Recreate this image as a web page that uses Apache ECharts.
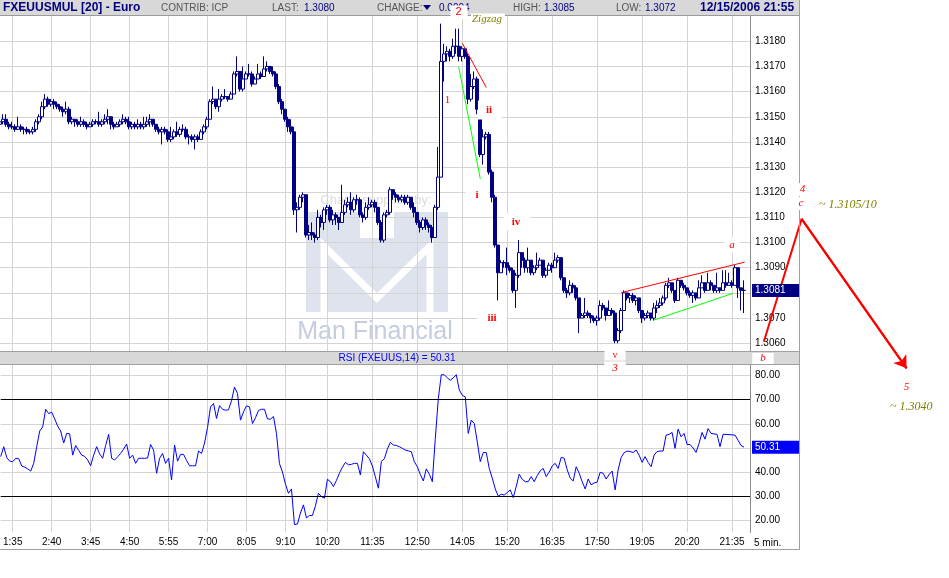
<!DOCTYPE html>
<html>
<head>
<meta charset="utf-8">
<title>FXEUUSMUL [20] - Euro</title>
<script src="https://cdn.jsdelivr.net/npm/echarts@6.0.0/dist/echarts.min.js"></script>
<style>
html,body{margin:0;padding:0;background:#ffffff;}
#chart{width:949px;height:578px;}
</style>
</head>
<body>
<div id="chart"></div>
<script>
// ---------------- data ----------------
const tickLabels = ['1:35','2:40','3:45','4:50','5:55','7:00','8:05','9:10','10:20','11:35','12:50','14:05','15:20','16:35','17:50','19:05','20:20','21:35'];
const firstOpen = 1.3147;
const closes = [
1.3148,1.3149,1.3147,1.3146,1.3146,1.3145,1.3146,1.3145,1.3145,1.3144,
1.3144,1.3145,1.3148,1.3150,1.3154,1.3157,1.3155,1.3156,1.3155,1.3154,
1.3153,1.3152,1.3153,1.3148,1.3149,1.3148,1.3147,1.3148,1.3147,1.3146,
1.3147,1.3148,1.3148,1.3147,1.3148,1.3149,1.3150,1.3147,1.3146,1.3147,
1.3148,1.3149,1.3148,1.3146,1.3147,1.3146,1.3147,1.3146,1.3147,1.3148,
1.3149,1.3147,1.3145,1.3144,1.3145,1.3144,1.3141,1.3142,1.3144,1.3143,
1.3145,1.3145,1.3142,1.3142,1.3141,1.3142,1.3141,1.3144,1.3146,1.3149,
1.3156,1.3157,1.3154,1.3157,1.3158,1.3158,1.3157,1.3159,1.3167,1.3168,
1.3161,1.3165,1.3167,1.3167,1.3163,1.3165,1.3167,1.3166,1.3169,1.3170,
1.3168,1.3167,1.3162,1.3156,1.3153,1.3149,1.3146,1.3144,1.3113,1.3114,
1.3118,1.3119,1.3103,1.3104,1.3103,1.3102,1.3110,1.3108,1.3113,1.3114,
1.3109,1.3111,1.3110,1.3108,1.3112,1.3115,1.3116,1.3113,1.3117,1.3117,
1.3111,1.3110,1.3114,1.3115,1.3116,1.3114,1.3108,1.3101,1.3111,1.3112,
1.3121,1.3119,1.3118,1.3117,1.3118,1.3116,1.3118,1.3114,1.3112,1.3108,
1.3106,1.3109,1.3107,1.3106,1.3102,1.3114,1.3126,1.3172,1.3175,1.3176,
1.3174,1.3178,1.3178,1.3174,1.3177,1.3174,1.3157,1.3162,1.3165,1.3153,
1.3135,1.3142,1.3143,1.3128,1.3118,1.3099,1.3088,1.3092,1.3092,1.3090,
1.3089,1.3081,1.3087,1.3096,1.3093,1.3090,1.3093,1.3088,1.3090,1.3091,
1.3093,1.3087,1.3089,1.3091,1.3090,1.3093,1.3094,1.3086,1.3081,1.3080,
1.3083,1.3082,1.3078,1.3070,1.3071,1.3072,1.3071,1.3070,1.3069,1.3070,
1.3075,1.3074,1.3071,1.3073,1.3072,1.3061,1.3065,1.3073,1.3080,1.3078,
1.3079,1.3077,1.3078,1.3073,1.3070,1.3071,1.3072,1.3070,1.3074,1.3075,
1.3076,1.3078,1.3083,1.3084,1.3081,1.3077,1.3085,1.3083,1.3082,1.3080,
1.3079,1.3080,1.3078,1.3082,1.3084,1.3081,1.3084,1.3083,1.3081,1.3082,
1.3081,1.3084,1.3083,1.3084,1.3083,1.3090,1.3082,1.3081,1.3081];
const highs = [
1.3150,1.3151,1.3151,1.3148,1.3148,1.3147,1.3150,1.3147,1.3146,1.3146,
1.3145,1.3146,1.3149,1.3151,1.3156,1.3159,1.3158,1.3157,1.3157,1.3156,
1.3155,1.3154,1.3156,1.3154,1.3150,1.3149,1.3149,1.3150,1.3149,1.3148,
1.3148,1.3149,1.3149,1.3152,1.3149,1.3151,1.3153,1.3150,1.3148,1.3148,
1.3149,1.3151,1.3150,1.3150,1.3148,1.3148,1.3149,1.3148,1.3150,1.3150,
1.3151,1.3149,1.3147,1.3146,1.3146,1.3146,1.3145,1.3146,1.3145,1.3148,
1.3146,1.3147,1.3146,1.3143,1.3143,1.3143,1.3143,1.3145,1.3147,1.3150,
1.3157,1.3162,1.3157,1.3161,1.3159,1.3161,1.3158,1.3160,1.3168,1.3174,
1.3168,1.3170,1.3168,1.3171,1.3168,1.3166,1.3171,1.3168,1.3174,1.3172,
1.3170,1.3170,1.3168,1.3163,1.3157,1.3153,1.3150,1.3149,1.3146,1.3116,
1.3119,1.3120,1.3119,1.3107,1.3108,1.3104,1.3113,1.3111,1.3114,1.3115,
1.3115,1.3113,1.3112,1.3110,1.3123,1.3117,1.3118,1.3120,1.3118,1.3119,
1.3118,1.3112,1.3116,1.3118,1.3117,1.3117,1.3114,1.3109,1.3112,1.3113,
1.3122,1.3121,1.3120,1.3119,1.3119,1.3119,1.3119,1.3118,1.3116,1.3112,
1.3109,1.3110,1.3110,1.3108,1.3107,1.3115,1.3138,1.3187,1.3179,1.3178,
1.3177,1.3181,1.3185,1.3185,1.3178,1.3177,1.3175,1.3167,1.3168,1.3166,
1.3153,1.3145,1.3144,1.3144,1.3129,1.3119,1.3099,1.3093,1.3093,1.3098,
1.3091,1.3090,1.3088,1.3101,1.3096,1.3094,1.3098,1.3093,1.3091,1.3096,
1.3094,1.3093,1.3090,1.3092,1.3092,1.3096,1.3095,1.3094,1.3086,1.3082,
1.3085,1.3084,1.3083,1.3078,1.3072,1.3078,1.3073,1.3072,1.3071,1.3071,
1.3077,1.3076,1.3074,1.3077,1.3074,1.3073,1.3066,1.3074,1.3081,1.3080,
1.3080,1.3080,1.3079,1.3078,1.3073,1.3072,1.3073,1.3072,1.3076,1.3077,
1.3078,1.3079,1.3084,1.3086,1.3084,1.3081,1.3086,1.3085,1.3084,1.3082,
1.3081,1.3081,1.3080,1.3085,1.3087,1.3084,1.3088,1.3085,1.3083,1.3088,
1.3082,1.3089,1.3089,1.3088,1.3085,1.3091,1.3090,1.3082,1.3085];
const lows = [
1.3146,1.3147,1.3146,1.3145,1.3145,1.3144,1.3145,1.3144,1.3143,1.3143,
1.3143,1.3143,1.3144,1.3147,1.3149,1.3153,1.3154,1.3154,1.3153,1.3153,
1.3152,1.3150,1.3151,1.3147,1.3147,1.3146,1.3146,1.3146,1.3146,1.3145,
1.3146,1.3146,1.3147,1.3146,1.3146,1.3147,1.3147,1.3145,1.3145,1.3146,
1.3146,1.3147,1.3147,1.3145,1.3145,1.3145,1.3145,1.3145,1.3145,1.3146,
1.3146,1.3146,1.3144,1.3143,1.3139,1.3143,1.3140,1.3140,1.3141,1.3142,
1.3142,1.3144,1.3141,1.3139,1.3140,1.3137,1.3140,1.3141,1.3143,1.3145,
1.3149,1.3155,1.3153,1.3152,1.3156,1.3157,1.3156,1.3157,1.3159,1.3166,
1.3160,1.3160,1.3165,1.3166,1.3162,1.3163,1.3165,1.3165,1.3166,1.3168,
1.3167,1.3166,1.3161,1.3155,1.3151,1.3148,1.3144,1.3143,1.3111,1.3104,
1.3113,1.3116,1.3102,1.3101,1.3101,1.3100,1.3101,1.3106,1.3105,1.3111,
1.3108,1.3107,1.3107,1.3105,1.3108,1.3111,1.3114,1.3111,1.3112,1.3115,
1.3110,1.3108,1.3109,1.3113,1.3114,1.3112,1.3107,1.3100,1.3100,1.3110,
1.3111,1.3117,1.3116,1.3116,1.3116,1.3115,1.3115,1.3113,1.3110,1.3107,
1.3104,1.3105,1.3105,1.3104,1.3100,1.3102,1.3113,1.3126,1.3164,1.3172,
1.3172,1.3173,1.3175,1.3172,1.3172,1.3173,1.3155,1.3156,1.3161,1.3151,
1.3134,1.3131,1.3141,1.3127,1.3116,1.3098,1.3077,1.3088,1.3090,1.3087,
1.3088,1.3080,1.3074,1.3086,1.3090,1.3088,1.3088,1.3087,1.3087,1.3089,
1.3091,1.3086,1.3086,1.3089,1.3088,1.3090,1.3092,1.3085,1.3080,1.3078,
1.3079,1.3080,1.3077,1.3064,1.3070,1.3070,1.3070,1.3068,1.3068,1.3067,
1.3069,1.3073,1.3069,1.3071,1.3071,1.3060,1.3060,1.3064,1.3073,1.3077,
1.3076,1.3076,1.3075,1.3072,1.3068,1.3069,1.3070,1.3069,1.3069,1.3072,
1.3074,1.3075,1.3077,1.3082,1.3080,1.3076,1.3077,1.3082,1.3081,1.3079,
1.3078,1.3076,1.3077,1.3078,1.3082,1.3080,1.3081,1.3081,1.3080,1.3080,
1.3080,1.3081,1.3082,1.3083,1.3082,1.3083,1.3078,1.3073,1.3072];
const rsiValues = [
46.4,50.5,46.0,44.5,44.3,45.7,45.5,42.5,42.0,41.3,
40.4,43.6,50.5,57.0,58.7,66.0,64.2,64.8,62.0,59.0,
57.0,52.0,56.0,55.8,47.0,51.0,49.0,47.0,46.5,45.0,
42.6,47.0,50.5,47.5,45.7,51.0,55.6,45.7,45.0,46.3,
47.7,49.5,51.6,45.7,47.0,43.6,45.7,45.7,45.7,45.8,
51.4,49.1,39.5,45.7,47.7,43.6,45.7,36.7,51.2,44.5,
47.3,47.3,44.8,42.6,42.6,42.6,48.7,47.7,52.0,58.5,
67.0,68.4,62.2,67.5,66.0,65.6,65.8,69.5,75.2,72.5,
61.5,64.9,67.4,67.0,60.1,62.5,65.5,66.0,66.0,62.0,
61.9,63.0,56.0,43.5,40.0,35.0,31.2,33.0,18.2,18.5,
23.0,26.4,21.0,22.0,22.0,26.0,31.2,29.8,29.2,37.0,
36.0,34.0,36.5,39.5,42.0,44.0,43.0,43.2,43.6,43.6,
38.8,48.4,47.0,45.5,42.5,38.0,33.3,44.5,45.5,49.5,
52.3,51.2,51.0,50.5,49.8,49.1,48.8,48.4,44.3,42.2,
39.0,36.3,41.3,39.1,36.0,53.9,70.4,80.3,80.3,79.0,
78.0,79.0,80.3,74.0,71.8,71.1,56.0,61.5,60.1,52.5,
44.3,48.1,48.1,41.5,37.5,33.0,30.0,30.8,30.5,31.5,
32.6,29.4,34.0,39.1,37.0,36.0,36.0,38.1,36.0,38.5,
40.5,41.5,38.1,40.0,42.5,43.6,41.5,46.1,45.7,41.0,
37.5,36.3,42.2,39.5,36.0,33.0,37.1,34.7,35.5,35.8,
39.9,39.5,37.1,39.0,40.4,32.6,40.9,46.0,48.0,48.7,
48.5,48.1,49.1,47.0,44.0,46.4,44.0,42.2,47.0,48.5,
48.7,48.7,55.3,55.6,56.4,49.8,57.8,54.6,56.0,51.4,
51.4,50.0,48.1,51.9,56.4,53.6,58.0,56.0,55.8,55.6,
50.5,55.6,55.6,55.5,55.4,55.3,53.2,51.0,50.31];
const lastPrice = 1.3081;
const lastRsi = 50.31;
const rsiLevels = [70, 30];
// annotation lines, points given as [bar index, price]
const redLine1 = [[154.1, 1.31792], [162.1, 1.31616]];
const greenLine1 = [[152.9, 1.31699], [160.1, 1.31253]];
const redLine2 = [[207.1, 1.30801], [248.2, 1.30922]];
const greenLine2 = [[218.0, 1.30692], [244.3, 1.30798]];
const projection = [[254.6, 1.30606], [267.2, 1.31094], [302.2, 1.30500]];

// 5-minute categories 1:15 .. 22:05
const categories = [];
for (let m = 75; m <= 1325; m += 5) categories.push(Math.floor(m / 60) + ':' + String(m % 60).padStart(2, '0'));

// ---------------- chart ----------------
const SANS = '"Liberation Sans", Arial, Helvetica, sans-serif';
const SERIF = '"Liberation Serif", "Times New Roman", serif';
const NAVY = '#000080';
const GRIDC = '#d4d4d4';
const RED = '#ff0000';
const OLIVE = '#808000';
const CLEAR = 'rgba(0,0,0,0)';
const showTick = (i, v) => tickLabels.indexOf(v) >= 0;

const candleData = closes.map((c, i) => [i === 0 ? firstOpen : closes[i - 1], c, lows[i], highs[i]]);

function txt(x, y, text, font, fill, extra) {
  return {type: 'text', x: x, y: y, z: 100, silent: true,
    style: Object.assign({text: text, font: font, fill: fill, align: 'center', verticalAlign: 'middle'}, extra || {})};
}
function hline(x1, x2, y, c) { return {type: 'line', z: 100, silent: true, shape: {x1: x1, y1: y, x2: x2, y2: y}, style: {stroke: c, lineWidth: 1}}; }
function vline(x, y1, y2, c) { return {type: 'line', z: 100, silent: true, shape: {x1: x, y1: y1, x2: x, y2: y2}, style: {stroke: c, lineWidth: 1}}; }

const L = {align: 'left'};
const WBG = (p) => ({backgroundColor: '#ffffff', padding: p});

const graphics = [
  // watermark logo (behind everything)
  {type: 'rect', z: -10, silent: true, shape: {x: 306, y: 212, width: 142, height: 100}, style: {fill: '#dfe3ed'}},
  {type: 'polyline', z: -10, silent: true, shape: {points: [[324, 312], [324, 246], [377, 298], [430, 246], [430, 312]]}, style: {stroke: '#ffffff', lineWidth: 7, fill: null}},
  {type: 'rect', z: -10, silent: true, shape: {x: 360, y: 212, width: 34, height: 26}, style: {fill: '#ffffff'}},
  {type: 'text', z: -10, silent: true, x: 375, y: 332, style: {text: 'Man Financial', font: '25px ' + SANS, fill: '#c5cce0', align: 'center', verticalAlign: 'middle'}},
  {type: 'text', z: -10, silent: true, x: 376, y: 200, style: {text: 'Charts supplied by:', font: '13px ' + SANS, fill: '#dcdcdc', align: 'center', verticalAlign: 'middle'}},
  // header
  {type: 'rect', z: 100, silent: true, shape: {x: 0, y: 0, width: 799, height: 15}, style: {fill: '#d8d8d8'}},
  hline(0, 799, 15.5, '#9a9a9a'),
  txt(3, 8, 'FXEUUSMUL [20] - Euro', 'bold 12px ' + SANS, NAVY, L),
  txt(161, 8, 'CONTRIB: ICP', '10px ' + SANS, '#555555', L),
  txt(272, 8, 'LAST:', '10px ' + SANS, '#555555', L),
  txt(304, 8, '1.3080', '10px ' + SANS, NAVY, L),
  txt(377, 8, 'CHANGE:', '10px ' + SANS, '#555555', L),
  {type: 'polygon', z: 100, silent: true, shape: {points: [[423, 5], [431, 5], [427, 10]]}, style: {fill: NAVY}},
  txt(439, 8, '0.0004', '10px ' + SANS, NAVY, L),
  txt(513, 8, 'HIGH:', '10px ' + SANS, '#555555', L),
  txt(544, 8, '1.3085', '10px ' + SANS, NAVY, L),
  txt(616, 8, 'LOW:', '10px ' + SANS, '#555555', L),
  txt(645, 8, '1.3072', '10px ' + SANS, NAVY, L),
  txt(700, 8, '12/15/2006 21:55', 'bold 12px ' + SANS, NAVY, L),
  // RSI title band
  {type: 'rect', z: 100, silent: true, shape: {x: 0, y: 352, width: 799, height: 12}, style: {fill: '#d8d8d8'}},
  hline(0, 799, 351.5, '#a0a0a0'),
  hline(0, 799, 364.5, '#a0a0a0'),
  txt(397, 358, 'RSI (FXEUUS,14) = ' + lastRsi.toFixed(2), '10px ' + SANS, '#0000ff'),
  // frame
  vline(799.5, 0, 550, '#a0a0a0'),
  hline(0, 800, 549.5, '#a0a0a0'),
  txt(754, 543, '5 min.', '10px ' + SANS, '#000000', L),
  // Elliott wave labels
  txt(459, 12, '2', '11px ' + SANS, RED, WBG([1, 6, 1, 5])),
  txt(471, 19, 'Zigzag', 'italic 11px ' + SERIF, OLIVE, Object.assign({align: 'left'}, WBG([0, 3, 0, 1]))),
  txt(447.5, 100, '1', '11px ' + SERIF, RED),
  txt(490, 110, 'ii', 'bold 11px ' + SERIF, RED, WBG([4, 10, 4, 8])),
  txt(477, 195, 'i', 'bold 11px ' + SERIF, RED, WBG([3, 10, 3, 10])),
  txt(517, 222, 'iv', 'bold 11px ' + SERIF, RED, WBG([3, 10, 3, 8])),
  txt(492, 318.5, 'iii', 'bold 11px ' + SERIF, RED, WBG([3, 10, 3, 10])),
  txt(732, 245, 'a', 'italic 11px ' + SERIF, RED, WBG([2, 5, 2, 5])),
  txt(615, 355.5, 'v', '10px ' + SERIF, RED, WBG([0, 8, 0, 8])),
  txt(615, 368, '3', 'italic 11px ' + SERIF, RED, WBG([1, 8, 1, 8])),
  txt(763, 358.5, 'b', 'italic 11px ' + SERIF, RED, WBG([0, 8, 0, 8])),
  txt(802.5, 189.5, '4', 'italic 11px ' + SERIF, RED, WBG([1, 3, 1, 3])),
  txt(801, 203.5, 'c', 'italic 11px ' + SERIF, RED, WBG([1, 3, 1, 3])),
  txt(819, 205, '~ 1.3105/10', 'italic 12px ' + SERIF, OLIVE, L),
  txt(906.5, 387, '5', 'italic 11px ' + SERIF, RED),
  txt(890, 407, '~ 1.3040', 'italic 12px ' + SERIF, OLIVE, L)
];

function seg(pts, color, width, arrow) {
  return [
    {coord: pts[0], symbol: 'none', lineStyle: {color: color, width: width, type: 'solid'}},
    {coord: pts[1], symbol: arrow ? 'arrow' : 'none', symbolSize: arrow ? 12 : 0}
  ];
}

const option = {
  animation: false,
  backgroundColor: '#ffffff',
  textStyle: {fontFamily: SANS},
  grid: [
    {left: 0, width: 750, top: 16.1, height: 339.7, containLabel: false},
    {left: 0, width: 750, top: 363.4, height: 169, containLabel: false},
    {left: 0, width: 949, top: 16.1, height: 377.4, containLabel: false}
  ],
  xAxis: [
    {type: 'category', gridIndex: 0, data: categories, boundaryGap: false,
      axisLine: {show: false}, axisTick: {show: false}, axisLabel: {show: false},
      splitLine: {show: true, interval: showTick, lineStyle: {color: GRIDC, width: 1}}},
    {type: 'category', gridIndex: 1, data: categories, boundaryGap: false,
      axisLine: {show: false}, axisTick: {show: false},
      axisLabel: {show: true, interval: showTick, color: '#000', fontSize: 10, fontFamily: SANS, margin: 5},
      splitLine: {show: true, interval: showTick, lineStyle: {color: GRIDC, width: 1}}},
    {type: 'value', gridIndex: 2, min: 0, max: 949 / 3, show: false}
  ],
  yAxis: [
    {type: 'value', gridIndex: 0, position: 'right', min: 1.3055, max: 1.3190, interval: 0.0005,
      axisLine: {show: true, lineStyle: {color: '#8c8c8c', width: 1}}, axisTick: {show: false},
      axisLabel: {show: true, showMaxLabel: false, color: '#000', fontSize: 10, fontFamily: SANS, margin: 5, align: 'left',
        formatter: v => (Math.round(v * 10000) % 10 === 0 ? v.toFixed(4) : '')},
      splitLine: {show: true, showMaxLine: false, lineStyle: {color: ['transparent', GRIDC], width: 1}}},
    {type: 'value', gridIndex: 1, position: 'right', min: 15, max: 85, interval: 5,
      axisLine: {show: true, lineStyle: {color: '#8c8c8c', width: 1}}, axisTick: {show: false},
      axisLabel: {show: true, color: '#000', fontSize: 10, fontFamily: SANS, margin: 5, align: 'left',
        formatter: v => (Math.round(v) % 10 === 0 ? v.toFixed(2) : '')},
      splitLine: {show: true, lineStyle: {color: ['transparent', GRIDC], width: 1}}},
    {type: 'value', gridIndex: 2, min: 1.3040, max: 1.3190, show: false}
  ],
  series: [
    {
      type: 'candlestick', xAxisIndex: 0, yAxisIndex: 0, data: candleData, barWidth: 3, silent: true,
      itemStyle: {color: '#ffffff', color0: NAVY, borderColor: NAVY, borderColor0: NAVY, borderWidth: 1},
      markLine: {silent: true, symbol: 'none', animation: false,
        data: [[
          {coord: [categories[0], lastPrice], lineStyle: {color: CLEAR, width: 1},
            label: {show: true, position: 'end', distance: 2, formatter: lastPrice.toFixed(4), color: '#ffffff',
              backgroundColor: NAVY, padding: [1, 14, 1, 3], fontSize: 10, lineHeight: 11, fontFamily: SANS}},
          {coord: [categories[categories.length - 1], lastPrice]}
        ]]}
    },
    {
      type: 'line', xAxisIndex: 1, yAxisIndex: 1, data: rsiValues, symbol: 'none', silent: true,
      lineStyle: {color: '#0000ff', width: 1}, itemStyle: {color: '#0000ff'},
      markLine: {silent: true, symbol: 'none', animation: false,
        data: rsiLevels.map(v => ({yAxis: v, lineStyle: {color: '#000000', width: 1, type: 'solid'}, label: {show: false}}))
          .concat([{yAxis: lastRsi, lineStyle: {color: CLEAR, width: 1},
            label: {show: true, position: 'end', distance: 2, formatter: lastRsi.toFixed(2), color: '#ffffff',
              backgroundColor: '#0000ff', padding: [1, 19, 1, 3], fontSize: 10, lineHeight: 11, fontFamily: SANS}}])}
    },
    {
      type: 'line', xAxisIndex: 2, yAxisIndex: 2, data: projection, symbol: 'none', clip: false, silent: true,
      lineStyle: {color: RED, width: 2}, itemStyle: {color: RED},
      markLine: {silent: true, animation: false, label: {show: false},
        data: [
          seg(redLine1, RED, 1, false),
          seg(greenLine1, '#00ff00', 1, false),
          seg(redLine2, RED, 1, false),
          seg(greenLine2, '#00ff00', 1, false),
          seg([projection[1], projection[2]], RED, 2, true)
        ]}
    }
  ],
  graphic: {elements: graphics}
};

const chart = echarts.init(document.getElementById('chart'), null, {renderer: 'canvas'});
chart.setOption(option);
</script>
</body>
</html>
